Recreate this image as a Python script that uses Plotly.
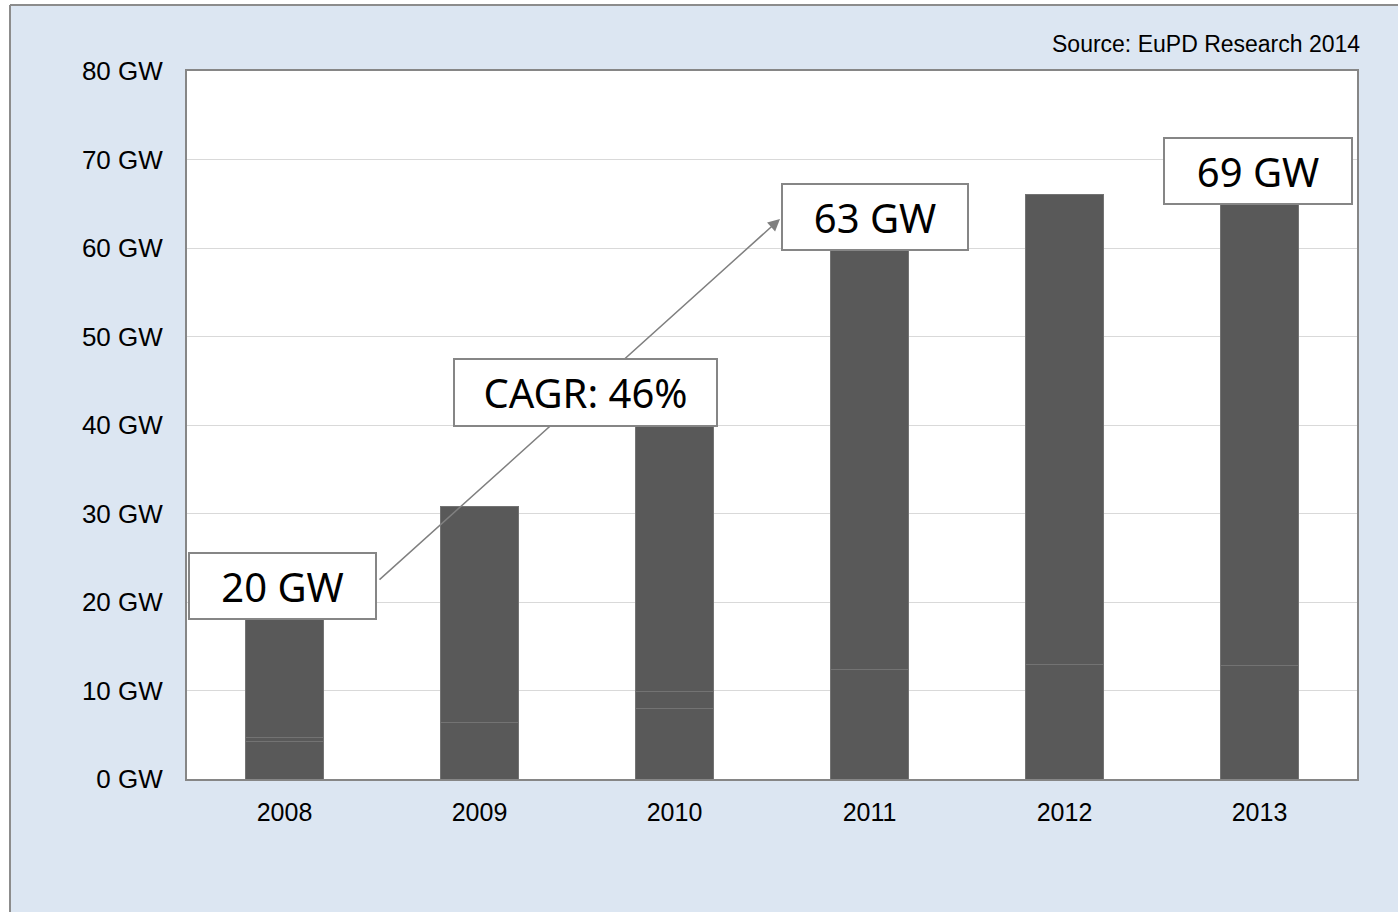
import plotly.graph_objects as go

years = ["2008", "2009", "2010", "2011", "2012", "2013"]
seg_base = [4.2, 6.4, 8.0, 12.4, 12.9, 12.8]
seg_mid = [0.45, 0.0, 1.9, 0.0, 0.0, 0.0]
seg_top = [15.35, 24.4, 37.6, 50.6, 53.2, 56.2]
y_tickvals = [0, 10, 20, 30, 40, 50, 60, 70, 80]
y_ticktext = ["0 GW", "10 GW", "20 GW", "30 GW", "40 GW", "50 GW", "60 GW", "70 GW", "80 GW"]
box_labels = ["20 GW", "CAGR: 46%", "63 GW", "69 GW"]
source_text = "Source: EuPD Research 2014"

BAR = "#595959"
EDGE = "#737373"
BG = "#DCE6F2"

fig = go.Figure()
for vals in (seg_base, seg_mid, seg_top):
    fig.add_trace(go.Bar(
        x=years, y=vals, width=0.4,
        marker=dict(color=BAR, line=dict(color=EDGE, width=1)),
        showlegend=False, hoverinfo="skip",
    ))

L, R, T, B = 187, 41, 71, 133
W, H = 1398 - L - R, 912 - T - B

def px(xp):
    return (xp - L) / W

def py(yp):
    return (912 - B - yp) / H

shapes = [
    dict(type="rect", xref="paper", yref="paper", x0=px(-5), x1=px(10), y0=py(930), y1=py(-5),
         fillcolor="white", line=dict(width=0), layer="below"),
    dict(type="rect", xref="paper", yref="paper", x0=px(-5), x1=px(1405), y0=py(5), y1=py(-5),
         fillcolor="white", line=dict(width=0), layer="below"),
    dict(type="line", xref="paper", yref="paper", x0=px(10), x1=px(10), y0=py(5), y1=py(915),
         line=dict(color="#8C8C8C", width=2)),
    dict(type="line", xref="paper", yref="paper", x0=px(10), x1=px(1405), y0=py(5), y1=py(5),
         line=dict(color="#8C8C8C", width=2)),
]

box_font = dict(family="Noto Sans, Open Sans, sans-serif", size=40, color="black")

def box(text, xc, yc, w, h):
    return dict(text=text, x=xc, y=yc, xref="x", yref="y", showarrow=False,
                width=w, height=h, bgcolor="white", bordercolor="#868686",
                borderwidth=2, borderpad=0, font=box_font, xanchor="center", yanchor="middle")

annotations = [
    dict(x=2.541, y=63.28, ax=0.4795, ay=22.37, xref="x", yref="y", axref="x", ayref="y",
         showarrow=True, arrowhead=2, arrowsize=1.6, arrowwidth=1.5, arrowcolor="#808080", text=""),
    box(box_labels[0], -0.01, 21.8, 185, 64),
    box(box_labels[1], 1.544, 43.67, 261, 65),
    box(box_labels[2], 3.028, 63.5, 184, 64),
    box(box_labels[3], 4.992, 68.7, 186, 64),
    dict(text=source_text, xref="paper", yref="paper", x=px(1362), y=py(44),
         xanchor="right", yanchor="middle", showarrow=False,
         font=dict(family="Liberation Sans, Arial, sans-serif", size=23, color="black")),
]

fig.update_layout(
    barmode="stack",
    width=1398, height=912,
    margin=dict(l=L, r=R, t=T, b=B, autoexpand=False),
    paper_bgcolor=BG, plot_bgcolor="white",
    shapes=shapes, annotations=annotations,
    font=dict(family="Liberation Sans, Arial, sans-serif", size=25, color="black"),
)
fig.update_xaxes(type="category", range=[-0.5, 5.5], showline=True, linecolor="#868686", linewidth=2,
                 mirror=True, showgrid=False, ticks="outside", ticklen=10, tickcolor="rgba(0,0,0,0)",
                 tickfont=dict(size=25))
fig.update_yaxes(range=[0, 80], tickvals=y_tickvals, ticktext=y_ticktext, showline=True,
                 linecolor="#868686", linewidth=2, mirror=True, gridcolor="#D9D9D9", gridwidth=1,
                 zeroline=False, ticks="outside", ticklen=17, tickcolor="rgba(0,0,0,0)",
                 tickfont=dict(size=26))

fig.write_html("out.html", config={"displayModeBar": False},
               post_script="document.body.style.margin='0';document.body.style.overflow='hidden';")
